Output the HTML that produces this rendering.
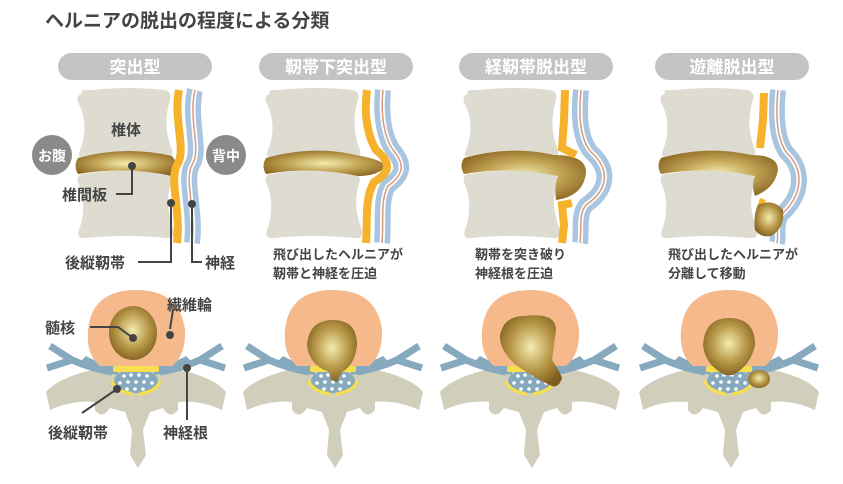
<!DOCTYPE html>
<html><head><meta charset="utf-8"><style>
html,body{margin:0;padding:0;background:#fff;}
svg{display:block;font-family:"Liberation Sans","Noto Sans CJK JP",sans-serif;}
</style></head><body>
<svg width="843" height="484" viewBox="0 0 843 484" xmlns="http://www.w3.org/2000/svg">
<defs>
<radialGradient id="disc" cx="0.5" cy="0.5" r="0.6">
<stop offset="0" stop-color="#f3ecb0"/><stop offset="0.5" stop-color="#c2a556"/><stop offset="1" stop-color="#8a6420"/></radialGradient>
<radialGradient id="nuc" cx="0.5" cy="0.45" r="0.6">
<stop offset="0" stop-color="#f3ecb0"/><stop offset="0.55" stop-color="#b89848"/><stop offset="1" stop-color="#7d5c1c"/></radialGradient>
<g id="vert">
<path d="M82,94 Q78,89 92,90 Q130,86 164,90 Q172,91 170,100 Q162,125 172,150 Q174,158 165,157 Q125,151 86,158 Q76,158 80,150 Q90,125 78,102 Q76,95 82,94Z" fill="#dedcd0"/>
<path d="M84,174 Q125,167 166,174 Q174,175 171,184 Q164,205 174,230 Q176,239 166,238 Q125,234 86,238 Q76,239 79,230 Q88,205 78,182 Q76,174 84,174Z" fill="#dedcd0"/>
</g>
<g id="bone">
<path d="M100,355 L172,355 L180,370 Q215,378 226,392 L222,410 Q200,400 178,402 L178,410 Q170,420 163,408 L150,412 L143,430 L146,455 L138,468 L130,455 L132,430 L125,412 L110,408 Q102,420 95,410 L95,402 Q72,400 50,410 L46,392 Q58,378 92,370 Z" fill="#d1cfbb"/>
</g>
<g id="roots">
<path d="M112,372 Q90,368 72,360 L50,346 M72,360 L47,368" stroke="#87a9be" stroke-width="7" fill="none" stroke-linejoin="round"/>
<path d="M160,372 Q182,368 200,360 L222,346 M200,360 L225,368" stroke="#87a9be" stroke-width="7" fill="none" stroke-linejoin="round"/>
<path d="M118,375 Q95,372 80,362 L86,356 Q100,364 118,366 Z M154,375 Q177,372 192,362 L186,356 Q172,364 154,366 Z" fill="#87a9be"/>
</g>
<g id="canal">
<ellipse cx="136" cy="381" rx="22" ry="12" fill="#87a9be"/>
<g fill="#fff"><circle cx="124" cy="376" r="1.8"/><circle cx="131" cy="375" r="1.8"/><circle cx="139" cy="375" r="1.8"/><circle cx="147" cy="376" r="1.8"/><circle cx="120" cy="383" r="1.8"/><circle cx="128" cy="382" r="1.8"/><circle cx="136" cy="382" r="1.8"/><circle cx="144" cy="382" r="1.8"/><circle cx="152" cy="383" r="1.8"/><circle cx="127" cy="389" r="1.8"/><circle cx="135" cy="389" r="1.8"/><circle cx="143" cy="389" r="1.8"/></g>
<path d="M110,381 Q114,393 134,396 L132,392 Q117,390 113,380Z M162,381 Q158,393 138,396 L140,392 Q155,390 159,380Z" fill="#f7de4e"/>
<rect x="113" y="366" width="46" height="6" rx="2" fill="#f7de4e"/>
</g>
</defs>

<text x="45" y="27" font-size="19" font-weight="bold" fill="#444">ヘルニアの脱出の程度による分類</text>

<g fill="#c4c4c4">
<rect x="58" y="53" width="154" height="27" rx="13.5"/>
<rect x="259" y="53" width="154" height="27" rx="13.5"/>
<rect x="459" y="53" width="154" height="27" rx="13.5"/>
<rect x="655" y="53" width="154" height="27" rx="13.5"/>
</g>
<g fill="#fff" font-size="17" font-weight="bold" text-anchor="middle">
<text x="135" y="73">突出型</text>
<text x="336" y="73">靭帯下突出型</text>
<text x="536" y="73">経靭帯脱出型</text>
<text x="732" y="73">遊離脱出型</text>
</g>

<use href="#vert"/>
<path d="M78,158 Q125,145 172,156 Q180,165 172,176 Q125,166 78,174 Q73,166 78,158Z" fill="url(#disc)"/>
<path d="M195,90 C188,120 202,150 192,165 C184,180 196,210 192,243" stroke="#a9c5df" stroke-width="16" fill="none"/>
<path d="M195,90 C188,120 202,150 192,165 C184,180 196,210 192,243" stroke="#fff" stroke-width="5" fill="none"/>
<path d="M195,90 C188,120 202,150 192,165 C184,180 196,210 192,243" stroke="#d49a80" stroke-width="1.5" fill="none"/>
<path d="M179,90 C173,120 187,150 177,165 C169,180 181,210 177,243" stroke="#f5b22a" stroke-width="8" fill="none"/>
<circle cx="52" cy="155" r="20" fill="#8a8a8a"/><text x="52" y="161" font-size="14" font-weight="bold" fill="#fff" text-anchor="middle">お腹</text>
<circle cx="226" cy="155" r="20" fill="#8a8a8a"/><text x="226" y="161" font-size="14" font-weight="bold" fill="#fff" text-anchor="middle">背中</text>
<g stroke="#444" stroke-width="2" fill="none">
<path d="M132,166 V194 H116"/><path d="M171,203 V262 H138"/><path d="M192,204 V262 H202"/>
</g>
<g fill="#444"><circle cx="132" cy="166" r="4"/><circle cx="171" cy="203" r="4"/><circle cx="192" cy="204" r="4"/></g>
<g font-size="15" font-weight="bold" fill="#444">
<text x="111" y="135">椎体</text>
<text x="62" y="200">椎間板</text>
<text x="65" y="268">後縦靭帯</text>
<text x="205" y="268">神経</text>
</g>

<g transform="translate(188,0)">
<use href="#vert"/>
<path d="M78,158 Q125,145 168,155 Q195,160 198,166 Q190,176 170,176 Q125,166 78,174 Q73,166 78,158Z" fill="url(#disc)"/>
<path d="M195,90 C192,120 198,140 205,150 C218,165 215,175 200,186 C192,200 196,220 194,243" stroke="#a9c5df" stroke-width="16" fill="none"/>
<path d="M195,90 C192,120 198,140 205,150 C218,165 215,175 200,186 C192,200 196,220 194,243" stroke="#fff" stroke-width="5" fill="none"/>
<path d="M195,90 C192,120 198,140 205,150 C218,165 215,175 200,186 C192,200 196,220 194,243" stroke="#d49a80" stroke-width="1.5" fill="none"/>
<path d="M179,90 C175,120 182,140 188,150 C203,162 203,172 186,182 C176,200 180,220 178,243" stroke="#f5b22a" stroke-width="8" fill="none"/>
</g>
<g transform="translate(386,0)">
<use href="#vert"/>
<path d="M78,158 Q125,145 168,155 Q200,155 200,172 Q198,196 170,200 Q168,185 172,176 Q125,166 78,174 Q73,166 78,158Z" fill="url(#disc)"/>
<path d="M195,90 C192,120 195,140 205,152 C225,170 222,190 200,205 C192,215 196,230 194,243" stroke="#a9c5df" stroke-width="16" fill="none"/>
<path d="M195,90 C192,120 195,140 205,152 C225,170 222,190 200,205 C192,215 196,230 194,243" stroke="#fff" stroke-width="5" fill="none"/>
<path d="M195,90 C192,120 195,140 205,152 C225,170 222,190 200,205 C192,215 196,230 194,243" stroke="#d49a80" stroke-width="1.5" fill="none"/>
<path d="M179,90 L178,120 L176,148 L190,155" stroke="#f5b22a" stroke-width="8" fill="none"/>
<path d="M186,203 L176,205 L178,225 L176,243" stroke="#f5b22a" stroke-width="8" fill="none"/>
</g>
<g transform="translate(583,0)">
<use href="#vert"/>
<path d="M78,158 Q125,145 168,155 Q195,155 195,170 Q192,188 172,196 Q168,185 172,176 Q125,166 78,174 Q73,166 78,158Z" fill="url(#disc)"/>
<path d="M195,90 C192,120 195,140 203,152 C222,170 220,195 198,215 C192,225 196,235 194,243" stroke="#a9c5df" stroke-width="16" fill="none"/>
<path d="M195,90 C192,120 195,140 203,152 C222,170 220,195 198,215 C192,225 196,235 194,243" stroke="#fff" stroke-width="5" fill="none"/>
<path d="M195,90 C192,120 195,140 203,152 C222,170 220,195 198,215 C192,225 196,235 194,243" stroke="#d49a80" stroke-width="1.5" fill="none"/>
<path d="M181,93 L180,120 L177,148" stroke="#f5b22a" stroke-width="8" fill="none"/>
<path d="M180,199 L176,210" stroke="#f5b22a" stroke-width="6" fill="none"/>
<path d="M175,205 Q190,198 200,210 Q202,228 188,236 Q178,238 172,230 Q170,215 175,205Z" fill="url(#nuc)"/>
</g>

<g font-size="13" font-weight="bold" fill="#444">
<text x="273" y="259">飛び出したヘルニアが</text><text x="273" y="278">靭帯と神経を圧迫</text>
<text x="475" y="259">靭帯を突き破り</text><text x="475" y="278">神経根を圧迫</text>
<text x="668" y="259">飛び出したヘルニアが</text><text x="668" y="278">分離して移動</text>
</g>

<g>
<use href="#bone"/><use href="#roots"/>
<path d="M136,290 Q180,290 185,330 Q186,355 172,366 L100,366 Q86,355 88,330 Q92,290 136,290Z" fill="#f6b98c"/>
<ellipse cx="133" cy="333" rx="24" ry="27" fill="url(#nuc)"/>
<use href="#canal"/>
<g stroke="#444" stroke-width="2" fill="none"><path d="M133,338 L118,327 H90"/><path d="M170,329 L173,310"/><path d="M117,389 L82,413"/><path d="M187,368 V420"/></g>
<g fill="#444"><circle cx="133" cy="338" r="4"/><circle cx="170" cy="335" r="4"/><circle cx="117" cy="389" r="4"/><circle cx="187" cy="368" r="4"/></g>
<g font-size="15" font-weight="bold" fill="#444">
<text x="45" y="333">髄核</text><text x="167" y="310">繊維輪</text>
<text x="48" y="438">後縦靭帯</text><text x="163" y="438">神経根</text>
</g>
</g>
<g transform="translate(197,0)">
<use href="#bone"/><use href="#roots"/>
<path d="M136,290 Q180,290 185,330 Q186,355 172,366 L100,366 Q86,355 88,330 Q92,290 136,290Z" fill="#f6b98c"/>
<use href="#canal"/>
<path d="M136,320 Q160,320 160,345 Q158,365 145,372 L140,382 L134,380 L132,372 Q112,365 110,345 Q112,320 136,320Z" fill="url(#nuc)"/>
</g>
<g transform="translate(394,0)">
<use href="#bone"/><use href="#roots"/>
<path d="M136,290 Q180,290 185,330 Q186,355 172,366 L100,366 Q86,355 88,330 Q92,290 136,290Z" fill="#f6b98c"/>
<use href="#canal"/>
<path d="M130,316 Q162,312 162,330 Q160,345 158,360 Q165,370 168,378 Q165,388 158,386 Q140,378 122,365 Q105,350 106,335 Q110,316 130,316Z" fill="url(#nuc)"/>
</g>
<g transform="translate(593,0)">
<use href="#bone"/><use href="#roots"/>
<path d="M136,290 Q180,290 185,330 Q186,355 172,366 L100,366 Q86,355 88,330 Q92,290 136,290Z" fill="#f6b98c"/>
<use href="#canal"/>
<path d="M136,318 Q162,318 162,345 Q158,365 140,375 L132,375 Q112,365 110,345 Q112,318 136,318Z" fill="url(#nuc)"/>
<ellipse cx="166" cy="379" rx="11" ry="9" fill="url(#nuc)"/>
</g>
</svg>
</body></html>
